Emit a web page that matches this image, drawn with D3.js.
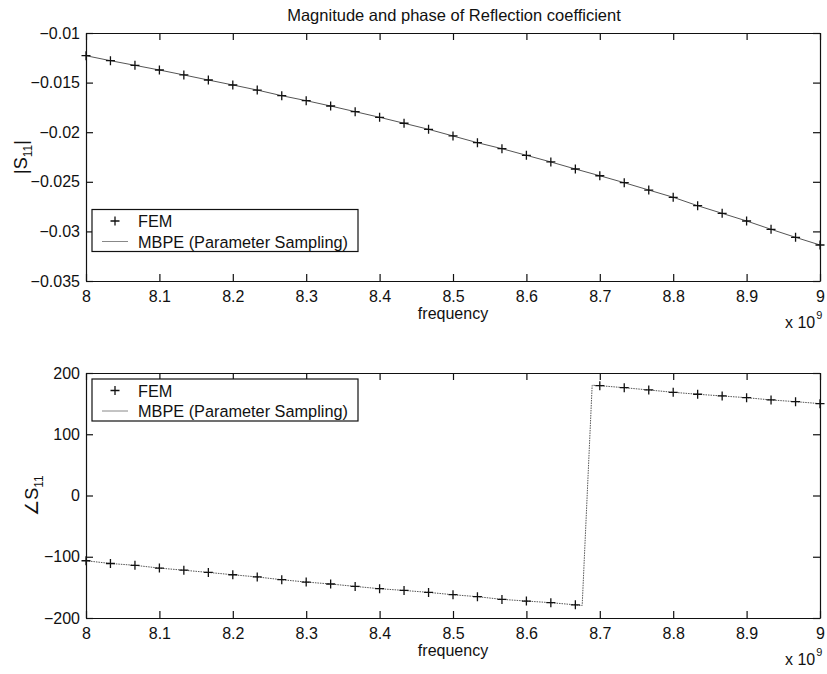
<!DOCTYPE html>
<html>
<head>
<meta charset="utf-8">
<script src="https://cdn.jsdelivr.net/npm/d3@7"></script>
<style>
  body { margin: 0; background: #fff; }
  svg text { font-family: "Liberation Sans", Arial, Helvetica, sans-serif; }
</style>
</head>
<body>
<script>
// frequency in units of 10^9 Hz (FEM sample points)
const freq = [
  8.0000, 8.0333, 8.0667, 8.1000, 8.1333, 8.1667, 8.2000, 8.2333, 8.2667, 8.3000, 8.3333,
  8.3667, 8.4000, 8.4333, 8.4667, 8.5000, 8.5333, 8.5667, 8.6000, 8.6333, 8.6667,
  8.7000, 8.7333, 8.7667, 8.8000, 8.8333, 8.8667, 8.9000, 8.9333, 8.9667, 9.0000
];

// |S11| (top panel)
const femMag = [
  -0.01229, -0.01279, -0.01326, -0.01373, -0.01423, -0.01474, -0.01524, -0.01575, -0.01632, -0.01682, -0.01736,
  -0.01793, -0.01850, -0.01910, -0.01971, -0.02038, -0.02106, -0.02166, -0.02233, -0.02300, -0.02371,
  -0.02439, -0.02509, -0.02583, -0.02656, -0.02741, -0.02818, -0.02895, -0.02979, -0.03060, -0.03137
];
const mbpeMag = [
  -0.01229, -0.01279, -0.01326, -0.01373, -0.01423, -0.01474, -0.01524, -0.01575, -0.01632, -0.01682, -0.01736,
  -0.01793, -0.01850, -0.01910, -0.01971, -0.02038, -0.02106, -0.02166, -0.02233, -0.02300, -0.02371,
  -0.02439, -0.02509, -0.02583, -0.02656, -0.02741, -0.02818, -0.02895, -0.02979, -0.03060, -0.03137
];

// angle S11 in degrees (bottom panel)
const femPhase = [
  -106.5, -111.0, -114.0, -118.5, -122.0, -125.6, -129.4, -133.0, -137.5, -141.3, -144.5,
  -148.4, -152.2, -155.0, -158.2, -162.0, -165.2, -169.6, -172.3, -175.0, -178.5,
  179.3, 176.0, 172.3, 168.5, 165.3, 162.5, 159.7, 156.0, 153.2, 150.0
];
const mbpePhaseFreq = [
  8.0000, 8.0333, 8.0667, 8.1000, 8.1333, 8.1667, 8.2000, 8.2333, 8.2667, 8.3000, 8.3333,
  8.3667, 8.4000, 8.4333, 8.4667, 8.5000, 8.5333, 8.5667, 8.6000, 8.6333, 8.6667, 8.6760,
  8.6896, 8.7000, 8.7333, 8.7667, 8.8000, 8.8333, 8.8667, 8.9000, 8.9333, 8.9667, 9.0000
];
const mbpePhase = [
  -106.5, -111.0, -114.0, -118.5, -122.0, -125.6, -129.4, -133.0, -137.5, -141.3, -144.5,
  -148.4, -152.2, -155.0, -158.2, -162.0, -165.2, -169.6, -172.3, -175.0, -178.5, -179.6,
  180.0, 179.3, 176.0, 172.3, 168.5, 165.3, 162.5, 159.7, 156.0, 153.2, 150.0
];

const xTicks = [8, 8.1, 8.2, 8.3, 8.4, 8.5, 8.6, 8.7, 8.8, 8.9, 9];
const magTicks = [-0.035, -0.03, -0.025, -0.02, -0.015, -0.01];
const phaseTicks = [-200, -100, 0, 100, 200];
const legendLabels = ["FEM", "MBPE (Parameter Sampling)"];

const width = 827,
  height = 674;
const fontSize = 16;
const fmt = d3.format("~g");

const svg = d3
  .select("body")
  .append("svg")
  .attr("width", width)
  .attr("height", height);

svg.append("rect").attr("width", width).attr("height", height).attr("fill", "#fff");

// title
svg
  .append("text")
  .attr("x", 454)
  .attr("y", 21)
  .attr("text-anchor", "middle")
  .attr("font-size", 16.5)
  .attr("fill", "#111")
  .text("Magnitude and phase of Reflection coefficient");

function drawPanel(p) {
  const xScale = d3.scaleLinear().domain([8, 9]).range([p.left, p.right]);
  const yScale = d3.scaleLinear().domain(p.yDomain).range([p.bottom, p.top]);

  const g = svg.append("g");

  // axes: ticks point inward on all four sides
  const axes = [
    { axis: d3.axisBottom(xScale).tickValues(xTicks).tickFormat(fmt).tickPadding(10), tr: `translate(0,${p.bottom})` },
    { axis: d3.axisTop(xScale).tickValues(xTicks).tickFormat(""), tr: `translate(0,${p.top})` },
    { axis: d3.axisLeft(yScale).tickValues(p.yTicks).tickFormat(fmt).tickPadding(6), tr: `translate(${p.left},0)` },
    { axis: d3.axisRight(yScale).tickValues(p.yTicks).tickFormat(""), tr: `translate(${p.right},0)` },
  ];
  axes.forEach((a) => {
    const ag = g
      .append("g")
      .attr("transform", a.tr)
      .call(a.axis.tickSizeInner(-7).tickSizeOuter(0));
    ag.attr("font-family", null).attr("font-size", fontSize);
    ag.selectAll("text").attr("fill", "#111");
    ag.selectAll("line, path").attr("stroke", "#111").attr("stroke-width", 1.2);
  });

  // MBPE line
  const line = d3
    .line()
    .x((d) => xScale(d[0]))
    .y((d) => yScale(d[1]));
  g.append("path")
    .datum(p.lineX.map((f, i) => [f, p.lineY[i]]))
    .attr("fill", "none")
    .attr("stroke", "#555")
    .attr("stroke-width", 1)
    .attr("stroke-dasharray", p.dash)
    .attr("d", line);

  // FEM markers
  g.selectAll("path.fem")
    .data(p.markX.map((f, i) => [f, p.markY[i]]))
    .enter()
    .append("path")
    .attr("class", "fem")
    .attr("transform", (d) => `translate(${xScale(d[0])},${yScale(d[1])})`)
    .attr("d", "M-4.5,0H4.5M0,-4.5V4.5")
    .attr("stroke", "#111")
    .attr("stroke-width", 1.3);

  // x label and exponent
  g.append("text")
    .attr("x", (p.left + p.right) / 2)
    .attr("y", p.bottom + 38)
    .attr("text-anchor", "middle")
    .attr("font-size", fontSize)
    .attr("fill", "#111")
    .text("frequency");
  const ex = g
    .append("text")
    .attr("x", p.right - 35)
    .attr("y", p.bottom + 47)
    .attr("font-size", fontSize)
    .attr("fill", "#111")
    .text("x 10");
  ex.append("tspan").attr("dy", -9).attr("dx", 1).attr("font-size", 11).text("9");

  // y label
  const yl = g
    .append("text")
    .attr("transform", `translate(${p.ylabelX},${(p.top + p.bottom) / 2}) rotate(-90)`)
    .attr("text-anchor", "middle")
    .attr("font-size", 18)
    .attr("fill", "#111");
  yl.append("tspan").text(p.ylabelMain);
  yl.append("tspan").attr("dy", 5).attr("font-size", 12).text("11");
  if (p.ylabelEnd) yl.append("tspan").attr("dy", -5).text(p.ylabelEnd);

  // legend
  const lg = g.append("g").attr("transform", `translate(${p.left + 6},${p.legendY})`);
  lg.append("rect")
    .attr("width", 266)
    .attr("height", 42)
    .attr("fill", "#fff")
    .attr("stroke", "#111")
    .attr("stroke-width", 1.2);
  const rows = lg
    .selectAll("g")
    .data(legendLabels)
    .enter()
    .append("g")
    .attr("transform", (d, i) => `translate(0,${11.5 + i * 20.5})`);
  rows.append("text")
    .attr("x", 46)
    .attr("y", 6)
    .attr("font-size", 16.3)
    .attr("fill", "#111")
    .text((d) => d);
  rows.filter((d, i) => i === 0)
    .append("path")
    .attr("d", "M18.5,0H27.5M23,-4.5V4.5")
    .attr("stroke", "#111")
    .attr("stroke-width", 1.3);
  rows.filter((d, i) => i === 1)
    .append("line")
    .attr("x1", 10)
    .attr("x2", 36)
    .attr("stroke", "#888")
    .attr("stroke-width", 1);
}

drawPanel({
  left: 86, right: 820, top: 33, bottom: 281,
  yDomain: [-0.035, -0.01], yTicks: magTicks,
  lineX: freq, lineY: mbpeMag, markX: freq, markY: femMag,
  dash: null, ylabelX: 27, ylabelMain: "|S", ylabelEnd: "|",
  legendY: 209.5,
});

drawPanel({
  left: 86, right: 820, top: 373, bottom: 618,
  yDomain: [-200, 200], yTicks: phaseTicks,
  lineX: mbpePhaseFreq, lineY: mbpePhase, markX: freq, markY: femPhase,
  dash: "1.5,1", ylabelX: 38, ylabelMain: "\u2220S", ylabelEnd: null,
  legendY: 379,
});
</script>
</body>
</html>
